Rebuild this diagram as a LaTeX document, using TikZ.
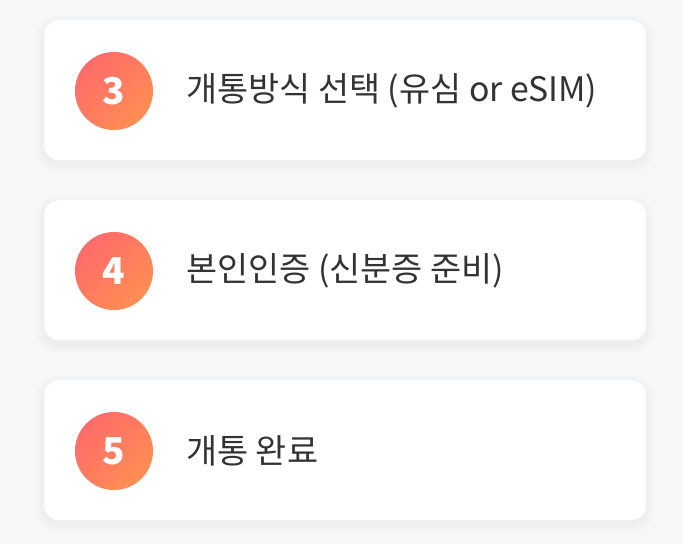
\documentclass[tikz,border=0pt]{standalone}
\usepackage{fontspec}
\setmainfont{Noto Sans CJK KR}
\usetikzlibrary{calc}
\definecolor{bg}{HTML}{F7F8FA}
\definecolor{txt}{HTML}{333333}
\definecolor{gA}{HTML}{FF6B6B}
\definecolor{gB}{HTML}{FF8E53}
\tikzset{
  card/.style={fill=white, rounded corners=15pt, minimum width=602pt, minimum height=140pt, anchor=north west, inner sep=0pt},
  badge/.style={circle, minimum size=78pt, inner sep=0pt, left color=gA, right color=gB, shading angle=45,
    text=white, font=\fontsize{37pt}{40pt}\selectfont\bfseries},
  label/.style={anchor=west, text=txt, inner sep=0pt, font=\fontsize{33.8pt}{38pt}\selectfont}
}
\newcommand{\softshadow}[2]{%
  \foreach \i in {1,...,10}{
    \fill[black, opacity=0.005, rounded corners=15pt+\i pt]
      ($(#1,#2)+(-\i,-\i+4)$) rectangle ($(#1+602,#2+140)+(\i,\i+4)$);
  }}
\begin{document}
\begin{tikzpicture}[x=1pt,y=-1pt]
\fill[bg] (0,0) rectangle (683,544);
\useasboundingbox (0,0) rectangle (683,544);
\softshadow{44}{20}
\softshadow{44}{200}
\softshadow{44}{380}
\node[card] (c3) at (44,20) {};
\node[card] (c4) at (44,200) {};
\node[card] (c5) at (44,380) {};
\node[badge] (b3) at (114,91) {3};
\node[badge] (b4) at (114,271) {4};
\node[badge] (b5) at (114,451) {5};
\node[label] (t3) at (186,91) {개통방식 선택 (유심 or eSIM)};
\node[label] (t4) at (186,271) {본인인증 (신분증 준비)};
\node[label] (t5) at (186,451) {개통 완료};
\end{tikzpicture}
\end{document}
